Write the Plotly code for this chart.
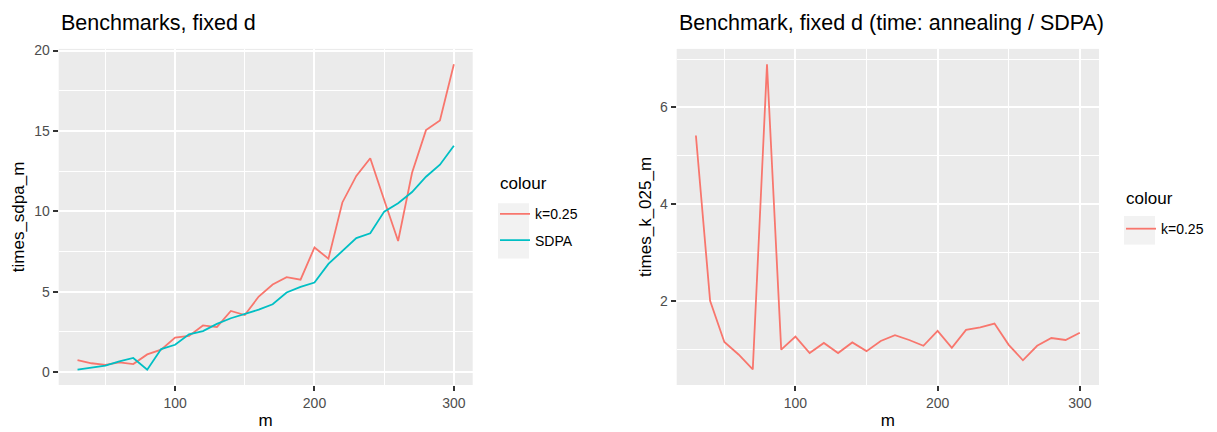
import plotly.graph_objects as go

m = list(range(30, 301, 10))

times_k025_left = [0.75, 0.55, 0.45, 0.6, 0.5, 1.1, 1.4, 2.15, 2.25, 2.9, 2.8, 3.8, 3.55, 4.7,
                   5.45, 5.9, 5.75, 7.75, 7.05, 10.55, 12.2, 13.3, 10.7, 8.15, 12.4, 15.05, 15.65, 19.15]
times_sdpa_m = [0.15, 0.27, 0.4, 0.67, 0.88, 0.15, 1.43, 1.7, 2.35, 2.55, 3.0, 3.35, 3.6, 3.88,
                4.22, 4.95, 5.3, 5.57, 6.73, 7.53, 8.33, 8.63, 9.98, 10.5, 11.2, 12.15, 12.9, 14.08]
times_k_025_m = [5.42, 2.0, 1.15, 0.89, 0.58, 6.89, 0.99, 1.26, 0.92, 1.13, 0.92, 1.14, 0.96, 1.17,
                 1.29, 1.19, 1.07, 1.38, 1.03, 1.40, 1.45, 1.53, 1.09, 0.77, 1.07, 1.23, 1.19, 1.34]

left_ticks_y = [0, 5, 10, 15, 20]
right_ticks_y = [2, 4, 6]
ticks_x = [100, 200, 300]

RED = "#F8766D"
CYAN = "#00BFC4"
PANEL = "#EBEBEB"
FONT = "Liberation Sans, Arial, sans-serif"
W, H = 1217, 432

def px_x(v):
    return v / W

def px_y(v):
    return 1 - v / H

fig = go.Figure()
fig.add_trace(go.Scatter(x=m, y=times_k025_left, mode="lines", name="k=0.25",
                         line=dict(color=RED, width=1.8), xaxis="x", yaxis="y",
                         legend="legend", legendgroup="a"))
fig.add_trace(go.Scatter(x=m, y=times_sdpa_m, mode="lines", name="SDPA",
                         line=dict(color=CYAN, width=1.8), xaxis="x", yaxis="y",
                         legend="legend", legendgroup="b"))
fig.add_trace(go.Scatter(x=m, y=times_k_025_m, mode="lines", name="k=0.25",
                         line=dict(color=RED, width=1.8), xaxis="x2", yaxis="y2",
                         legend="legend2", legendgroup="c"))

tickfont = dict(family=FONT, size=14, color="#4D4D4D")
titlefont = dict(family=FONT, size=17, color="black")

def xax(domain, anchor):
    return dict(domain=domain, anchor=anchor, range=[16.5, 313.5], tickvals=ticks_x,
                showgrid=True, gridcolor="white", gridwidth=2, zeroline=False,
                ticks="outside", ticklen=5, tickwidth=1.5, tickcolor="#333333",
                tickfont=tickfont, showline=False,
                minor=dict(dtick=50, tick0=0, showgrid=True, gridcolor="white", gridwidth=1),
                title=dict(text="m", font=titlefont, standoff=4))

def yax(domain, anchor, rng, tv, minor_dtick, minor_tick0, title, standoff):
    return dict(domain=domain, anchor=anchor, range=rng, tickvals=tv,
                showgrid=True, gridcolor="white", gridwidth=2, zeroline=False,
                ticks="outside", ticklen=5, tickwidth=1.5, tickcolor="#333333",
                tickfont=tickfont, showline=False,
                minor=dict(dtick=minor_dtick, tick0=minor_tick0, showgrid=True,
                           gridcolor="white", gridwidth=1),
                title=dict(text=title, font=titlefont, standoff=standoff))

ydom = [px_y(384.3), px_y(43.5)]
legfont = dict(family=FONT, size=14, color="black")
fig.update_layout(
    width=W, height=H, autosize=False,
    margin=dict(l=0, r=0, t=0, b=0),
    paper_bgcolor="white", plot_bgcolor=PANEL,
    font=dict(family=FONT),
    xaxis=xax([px_x(58.7), px_x(472.7)], "y"),
    yaxis=yax(ydom, "x", [-0.8, 20.1], left_ticks_y, 2.5, 0, "times_sdpa_m", 5),
    xaxis2=xax([px_x(676.7), px_x(1099)], "y2"),
    yaxis2=yax(ydom, "x2", [0.26, 7.21], right_ticks_y, 1, 1, "times_k_025_m", 4),
    legend=dict(x=px_x(495), y=px_y(195), xanchor="left", yanchor="top",
                bgcolor="rgba(0,0,0,0)", font=legfont, tracegroupgap=5),
    legend2=dict(x=px_x(1121), y=px_y(210), xanchor="left", yanchor="top",
                 bgcolor="rgba(0,0,0,0)", font=legfont, tracegroupgap=5),
    shapes=[
        dict(type="rect", xref="paper", yref="paper", x0=px_x(498), x1=px_x(529),
             y0=px_y(256), y1=px_y(200), fillcolor="#F2F2F2", line=dict(width=0), layer="below"),
        dict(type="rect", xref="paper", yref="paper", x0=px_x(1124), x1=px_x(1155),
             y0=px_y(242), y1=px_y(213), fillcolor="#F2F2F2", line=dict(width=0), layer="below"),
    ],
    annotations=[
        dict(text="Benchmarks, fixed d", xref="paper", yref="paper", x=px_x(58.7), y=px_y(17),
             xanchor="left", yanchor="middle", showarrow=False,
             font=dict(family=FONT, size=21.5, color="black")),
        dict(text="Benchmark, fixed d (time: annealing / SDPA)", xref="paper", yref="paper",
             x=px_x(676.7), y=px_y(17), xanchor="left", yanchor="middle", showarrow=False,
             font=dict(family=FONT, size=21.5, color="black")),
        dict(text="colour", xref="paper", yref="paper", x=px_x(498), y=px_y(180),
             xanchor="left", yanchor="middle", showarrow=False,
             font=dict(family=FONT, size=17, color="black")),
        dict(text="colour", xref="paper", yref="paper", x=px_x(1124), y=px_y(195),
             xanchor="left", yanchor="middle", showarrow=False,
             font=dict(family=FONT, size=17, color="black")),
    ],
)

fig.write_html("out.html")
